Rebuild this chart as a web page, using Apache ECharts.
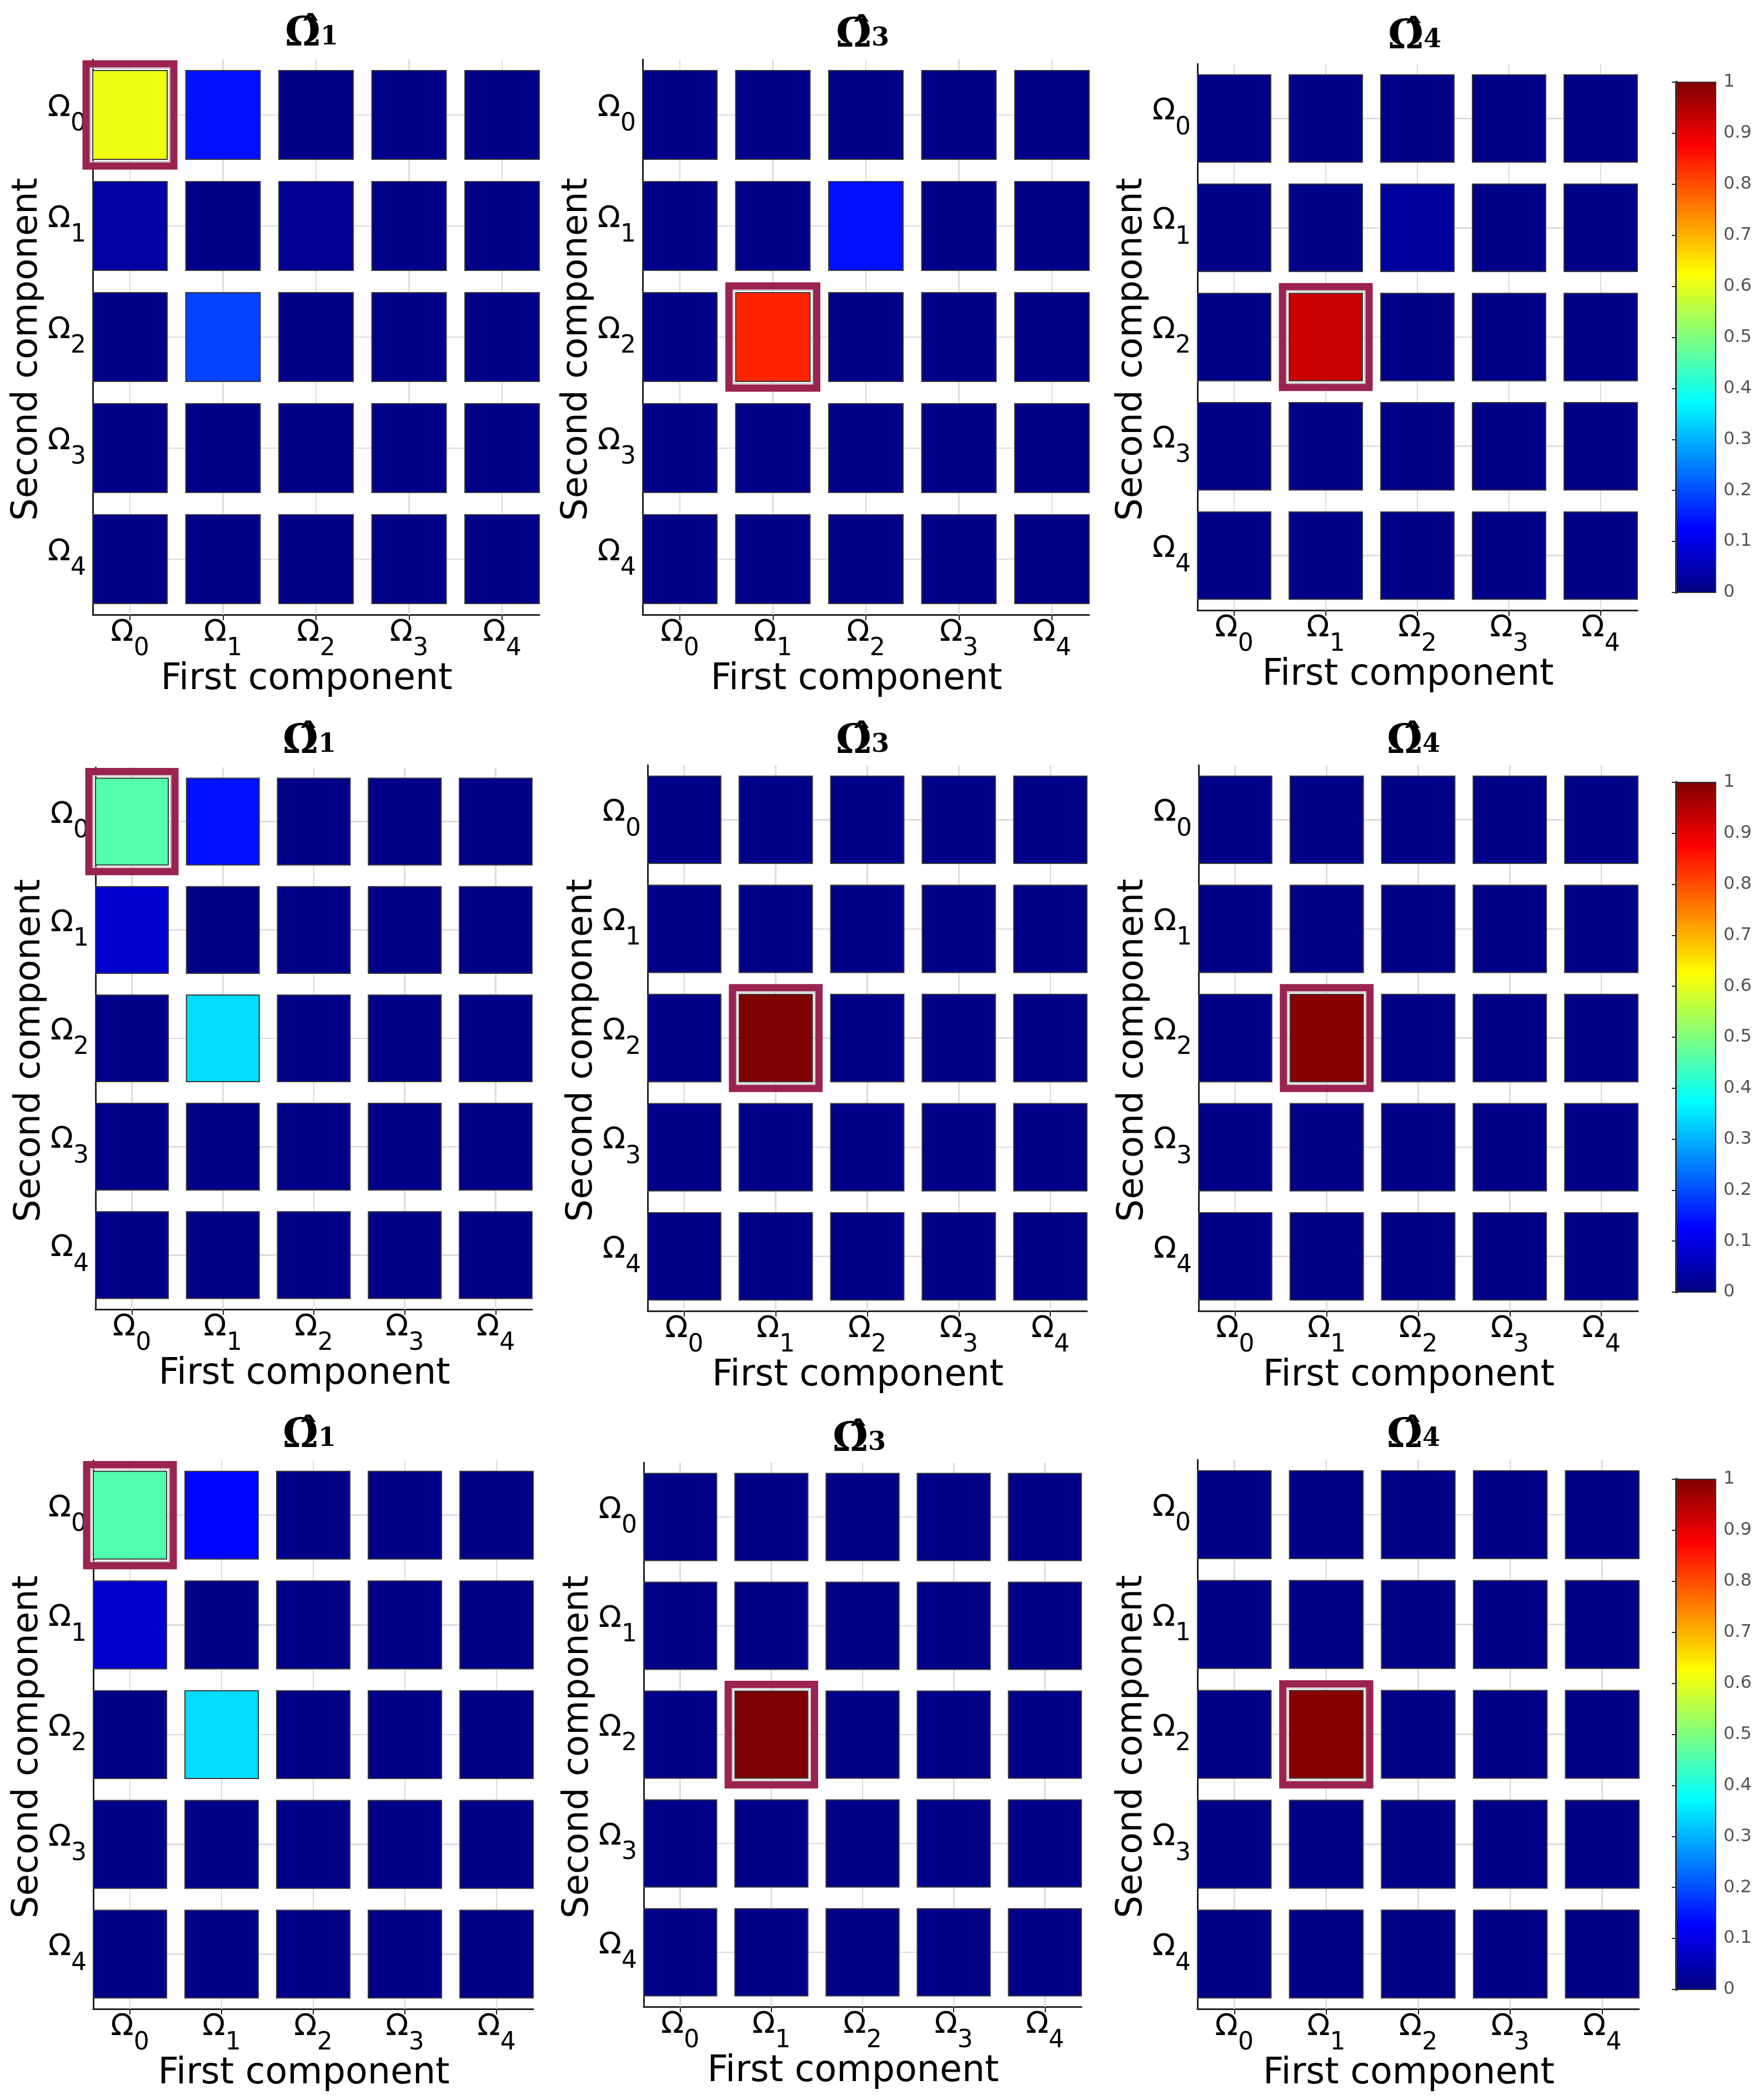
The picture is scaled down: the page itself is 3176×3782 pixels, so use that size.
<!DOCTYPE html>
<html>
<head>
<meta charset="utf-8">
<title>Omega pair maps</title>
<script src="https://cdn.jsdelivr.net/npm/echarts@6/dist/echarts.min.js"></script>
<style>
  html, body { margin: 0; padding: 0; background: #fff; }
  #chart { width: 3176px; height: 3782px; }
</style>
</head>
<body>
<div id="chart"></div>
<script>
// axis categories: Omega_0 .. Omega_4
const components = [0, 1, 2, 3, 4];
// subscript of the hat-Omega in each column's title
const panelTitles = ['1', '3', '4'];
// colorbar range and step
const colorbarRange = [0, 1];
const colorbarStep = 0.1;

// rows = second component (Omega_0..Omega_4), columns = first component
const run1Omega1 = [
  [0.61, 0.14, 0.01, 0.01, 0.01],
  [0.035, 0.01, 0.02, 0.01, 0.01],
  [0.01, 0.19, 0.01, 0.01, 0.01],
  [0.01, 0.01, 0.01, 0.01, 0.01],
  [0.01, 0.01, 0.01, 0.01, 0.01]
];
const run1Omega3 = [
  [0.01, 0.01, 0.01, 0.01, 0.01],
  [0.01, 0.01, 0.14, 0.01, 0.01],
  [0.01, 0.84, 0.01, 0.01, 0.01],
  [0.01, 0.01, 0.01, 0.01, 0.01],
  [0.01, 0.01, 0.01, 0.01, 0.01]
];
const run1Omega4 = [
  [0.01, 0.01, 0.01, 0.01, 0.01],
  [0.01, 0.01, 0.03, 0.01, 0.01],
  [0.01, 0.925, 0.01, 0.01, 0.01],
  [0.01, 0.01, 0.01, 0.01, 0.01],
  [0.01, 0.01, 0.01, 0.01, 0.01]
];
const run2Omega1 = [
  [0.457, 0.14, 0.01, 0.01, 0.01],
  [0.075, 0.01, 0.01, 0.01, 0.01],
  [0.01, 0.342, 0.01, 0.01, 0.01],
  [0.01, 0.01, 0.01, 0.01, 0.01],
  [0.01, 0.01, 0.01, 0.01, 0.01]
];
const run2Omega3 = [
  [0.01, 0.01, 0.01, 0.01, 0.01],
  [0.01, 0.01, 0.01, 0.01, 0.01],
  [0.01, 1.0, 0.01, 0.01, 0.01],
  [0.01, 0.01, 0.01, 0.01, 0.01],
  [0.01, 0.01, 0.01, 0.01, 0.01]
];
const run2Omega4 = [
  [0.01, 0.01, 0.01, 0.01, 0.01],
  [0.01, 0.01, 0.01, 0.01, 0.01],
  [0.01, 0.99, 0.01, 0.01, 0.01],
  [0.01, 0.01, 0.01, 0.01, 0.01],
  [0.01, 0.01, 0.01, 0.01, 0.01]
];
const run3Omega1 = [
  [0.455, 0.13, 0.01, 0.01, 0.01],
  [0.075, 0.01, 0.01, 0.01, 0.01],
  [0.01, 0.342, 0.01, 0.01, 0.01],
  [0.01, 0.01, 0.01, 0.01, 0.01],
  [0.01, 0.01, 0.01, 0.01, 0.01]
];
const run3Omega3 = [
  [0.01, 0.01, 0.01, 0.01, 0.01],
  [0.01, 0.01, 0.01, 0.01, 0.01],
  [0.01, 1.0, 0.01, 0.01, 0.01],
  [0.01, 0.01, 0.01, 0.01, 0.01],
  [0.01, 0.01, 0.01, 0.01, 0.01]
];
const run3Omega4 = [
  [0.01, 0.01, 0.01, 0.01, 0.01],
  [0.01, 0.01, 0.01, 0.01, 0.01],
  [0.01, 0.99, 0.01, 0.01, 0.01],
  [0.01, 0.01, 0.01, 0.01, 0.01],
  [0.01, 0.01, 0.01, 0.01, 0.01]
];

const matrices = [
  run1Omega1, run1Omega3, run1Omega4,
  run2Omega1, run2Omega3, run2Omega4,
  run3Omega1, run3Omega3, run3Omega4
];

// plot boxes [left, top, width, height] and title anchor [x, top]
const panelBoxes = [
  [167, 107, 804, 1000], [1157, 107, 804, 1000], [2156, 115, 792, 984],
  [172, 1382, 786, 976], [1166, 1378, 791, 983], [2158, 1378, 791, 983],
  [168, 2630, 792, 988], [1159, 2634, 788, 980], [2156, 2629, 795, 989]
];
const titleAnchors = [
  [556, 14], [1548, 16], [2542, 19],
  [552, 1288], [1548, 1288], [2540, 1288],
  [552, 2538], [1542, 2545], [2540, 2538]
];
const colorbarBoxes = [
  [3018, 148, 71, 919],
  [3018, 1409, 71, 918],
  [3018, 2664, 71, 919]
];

const jet = ['#00007f', '#0000ff', '#007fff', '#00ffff', '#7fff7f', '#ffff00', '#ff7f00', '#ff0000', '#7f0000'];
const SANS = 'DejaVu Sans';

// Omega with a lowered subscript digit
const omegaRich = {
  o: { fontFamily: SANS, fontSize: 54, lineHeight: 54, color: '#000', verticalAlign: 'top' },
  s: { fontFamily: SANS, fontSize: 44, color: '#000', verticalAlign: 'bottom', padding: [34, 0, 0, 0] }
};
const omegaLabel = (v) => '{o|\u03A9}{s|' + v + '}';

function renderCell(params, api) {
  const x = api.value(0), y = api.value(1);
  const a = api.coord([x - 0.4, y - 0.4]);
  const b = api.coord([x + 0.4, y + 0.4]);
  const c = api.coord([x, y]);
  const cs = params.coordSys;
  const r = {
    x: Math.min(a[0], b[0]), y: Math.min(a[1], b[1]),
    width: Math.abs(b[0] - a[0]), height: Math.abs(b[1] - a[1])
  };
  const children = [
    { type: 'line', z2: 0, shape: { x1: c[0], y1: cs.y, x2: c[0], y2: cs.y + cs.height }, style: { stroke: '#dcdcdc', lineWidth: 2 } },
    { type: 'line', z2: 0, shape: { x1: cs.x, y1: c[1], x2: cs.x + cs.width, y2: c[1] }, style: { stroke: '#dcdcdc', lineWidth: 2 } },
    { type: 'rect', z2: 10, shape: r, style: { fill: api.visual('color'), stroke: '#3a3a3a', lineWidth: 2 } }
  ];
  if (api.value(3) === 1) {
    // highlight the largest entry of the panel
    children.push({ type: 'rect', z2: 20, shape: { x: r.x - 4, y: r.y - 4, width: r.width + 8, height: r.height + 8 }, style: { fill: 'none', stroke: '#c9c9c9', lineWidth: 2 } });
    children.push({ type: 'rect', z2: 21, shape: { x: r.x - 12, y: r.y - 12, width: r.width + 24, height: r.height + 24 }, style: { fill: 'none', stroke: '#9b2351', lineWidth: 13 } });
  }
  return { type: 'group', children };
}

function renderColorbar(params, api) {
  const lo = api.coord([0, api.value(0)]);
  const hi = api.coord([1, api.value(1)]);
  return {
    type: 'rect',
    shape: { x: lo[0], y: hi[1], width: hi[0] - lo[0], height: lo[1] - hi[1] },
    style: {
      fill: new echarts.graphic.LinearGradient(0, 1, 0, 0, jet.map((col, i) => ({ offset: i / (jet.length - 1), color: col }))),
      stroke: '#333', lineWidth: 2
    }
  };
}

const grids = [], xAxes = [], yAxes = [], series = [], titles = [];

matrices.forEach((m, i) => {
  const [left, top, width, height] = panelBoxes[i];
  grids.push({ left, top, width, height });

  xAxes.push({
    gridIndex: i, type: 'value', min: -0.4, max: 4.4,
    name: 'First component', nameLocation: 'middle', nameGap: 76,
    nameTextStyle: { fontFamily: SANS, fontSize: 65, color: '#000', padding: [0, 34, 0, 0] },
    axisLine: { show: true, onZero: false, lineStyle: { color: '#222', width: 3 } },
    axisTick: { show: true, customValues: components, length: 10, lineStyle: { color: '#222', width: 2 } },
    axisLabel: { customValues: components, formatter: omegaLabel, rich: omegaRich, margin: 6 },
    splitLine: { show: false }
  });
  yAxes.push({
    gridIndex: i, type: 'value', min: -0.5, max: 4.5, inverse: true,
    name: 'Second component', nameLocation: 'middle', nameGap: 73, nameRotate: 90,
    nameTextStyle: { fontFamily: SANS, fontSize: 64, color: '#000', padding: [0, 44, 0, 0] },
    axisLine: { show: true, onZero: false, lineStyle: { color: '#222', width: 3 } },
    axisTick: { show: false },
    axisLabel: { customValues: components, formatter: omegaLabel, rich: omegaRich, margin: 12 },
    splitLine: { show: false }
  });

  // find the largest cell so it can be boxed
  let best = [0, 0];
  m.forEach((row, yi) => row.forEach((v, xi) => { if (v > m[best[1]][best[0]]) best = [xi, yi]; }));
  const data = [];
  m.forEach((row, yi) => row.forEach((v, xi) => {
    data.push([components[xi], components[yi], v, (xi === best[0] && yi === best[1]) ? 1 : 0]);
  }));
  series.push({
    type: 'custom', xAxisIndex: i, yAxisIndex: i, clip: false,
    renderItem: renderCell, encode: { x: 0, y: 1 }, data
  });

  titles.push({
    text: '{o|\u03A9\u0302}{s|' + panelTitles[i % 3] + '}',
    left: titleAnchors[i][0], top: titleAnchors[i][1], textAlign: 'center',
    textStyle: {
      rich: {
        o: { fontFamily: 'DejaVu Serif', fontWeight: 'bold', fontSize: 72, lineHeight: 80, color: '#000', verticalAlign: 'bottom' },
        s: { fontFamily: 'DejaVu Serif', fontWeight: 'bold', fontSize: 46, lineHeight: 46, color: '#000', verticalAlign: 'bottom', padding: [0, 0, 8, 0] }
      }
    }
  });
});

// colorbars, one per row
colorbarBoxes.forEach((box, k) => {
  const idx = matrices.length + k;
  grids.push({ left: box[0], top: box[1], width: box[2], height: box[3] });
  xAxes.push({ gridIndex: idx, type: 'value', min: 0, max: 1, show: false });
  yAxes.push({
    gridIndex: idx, type: 'value', position: 'right',
    min: colorbarRange[0], max: colorbarRange[1], interval: colorbarStep,
    axisLine: { show: true, lineStyle: { color: '#2a2a2a', width: 5 } },
    axisTick: { show: true, inside: true, length: 8, lineStyle: { color: '#2a2a2a', width: 2 } },
    axisLabel: { fontFamily: SANS, fontSize: 32, color: '#555', margin: 14 },
    splitLine: { show: false }
  });
  series.push({
    type: 'custom', xAxisIndex: idx, yAxisIndex: idx, clip: false,
    renderItem: renderColorbar, data: [colorbarRange]
  });
});

const chart = echarts.init(document.getElementById('chart'));
chart.setOption({
  backgroundColor: '#fff',
  animation: false,
  title: titles,
  grid: grids,
  xAxis: xAxes,
  yAxis: yAxes,
  visualMap: {
    type: 'continuous', show: false, min: 0, max: 1, dimension: 2,
    seriesIndex: matrices.map((_, i) => i),
    inRange: { color: jet }
  },
  series
});
</script>
</body>
</html>
